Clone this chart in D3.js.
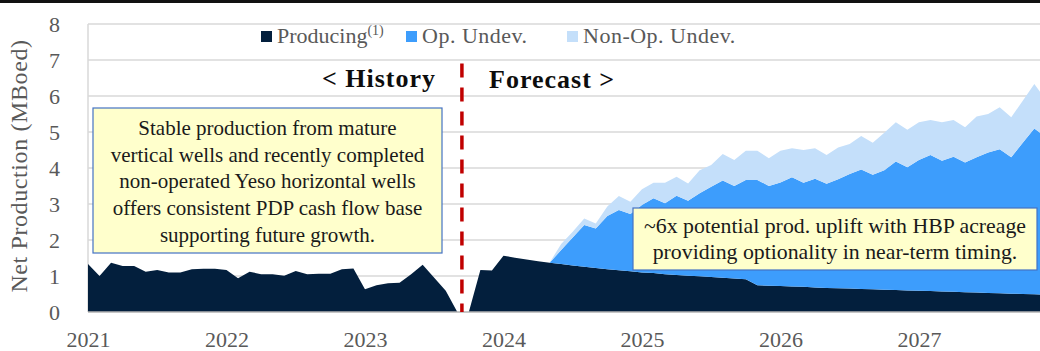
<!DOCTYPE html>
<html>
<head>
<meta charset="utf-8">
<script src="https://cdn.jsdelivr.net/npm/d3@7"></script>
<style>
  body { margin: 0; background: #fff; }
  svg { display: block; font-family: "Liberation Serif", "DejaVu Serif", serif; }
</style>
</head>
<body>
<svg id="chart" width="1040" height="351"></svg>
<script>
// monthly values, Jan 2021 .. Dec 2027 (index 0..83)
const yearLabels = ["2021", "2022", "2023", "2024", "2025", "2026", "2027"];
const yTicks = [0, 1, 2, 3, 4, 5, 6, 7, 8];

const producing = [
  1.33, 1.00, 1.37, 1.28, 1.28, 1.12, 1.17, 1.10, 1.10, 1.19, 1.20, 1.20,
  1.17, 0.94, 1.12, 1.05, 1.05, 1.01, 1.14, 1.05, 1.06, 1.06, 1.19, 1.21,
  0.63, 0.74, 0.80, 0.81, 1.05, 1.31, 0.95, 0.59, 0.00, 0.00, 1.17, 1.15,
  1.56, 1.51, 1.46, 1.41, 1.37, 1.33, 1.29, 1.26, 1.22, 1.19, 1.16, 1.13,
  1.10, 1.08, 1.05, 1.03, 1.01, 0.99, 0.97, 0.95, 0.93, 0.91, 0.74, 0.73,
  0.72, 0.71, 0.70, 0.68, 0.67, 0.66, 0.65, 0.64, 0.63, 0.62, 0.61, 0.60,
  0.59, 0.58, 0.57, 0.56, 0.55, 0.54, 0.53, 0.52, 0.51, 0.50, 0.49, 0.48
];
const opUndev = [
  0, 0, 0, 0, 0, 0, 0, 0, 0, 0, 0, 0,
  0, 0, 0, 0, 0, 0, 0, 0, 0, 0, 0, 0,
  0, 0, 0, 0, 0, 0, 0, 0, 0, 0, 0, 0,
  0, 0, 0, 0, 0, 0.39, 0.78, 1.16, 1.10, 1.48, 1.67, 1.59,
  1.87, 2.08, 1.97, 2.20, 2.08, 2.31, 2.51, 2.70, 2.57, 2.76, 2.93, 2.77,
  2.88, 3.03, 2.89, 3.02, 2.89, 3.03, 3.18, 3.32, 3.18, 3.32, 3.57, 3.42,
  3.63, 3.78, 3.63, 3.75, 3.60, 3.76, 3.90, 4.00, 3.79, 4.20, 4.61, 4.37
];
const nonOpUndev = [
  0, 0, 0, 0, 0, 0, 0, 0, 0, 0, 0, 0,
  0, 0, 0, 0, 0, 0, 0, 0, 0, 0, 0, 0,
  0, 0, 0, 0, 0, 0, 0, 0, 0, 0, 0, 0,
  0, 0, 0, 0, 0, 0.17, 0.16, 0.18, 0.14, 0.26, 0.39, 0.34,
  0.44, 0.43, 0.57, 0.53, 0.48, 0.64, 0.60, 0.74, 0.72, 0.81, 0.81, 0.77,
  0.88, 0.81, 0.91, 0.85, 0.80, 0.88, 0.84, 0.93, 0.89, 1.04, 1.09, 1.04,
  1.05, 0.97, 1.07, 1.02, 0.98, 1.13, 1.07, 1.17, 1.11, 1.17, 1.23, 1.05
];

const seriesKeys = ["producing", "opUndev", "nonOpUndev"];
const seriesNames = ["Producing", "Op. Undev.", "Non-Op. Undev."];
const seriesColors = ["#031f3d", "#3d9dfc", "#c4dffa"];
const forecastStart = 32.4; // month index of the history / forecast split

const table = producing.map((p, i) => ({
  month: i, producing: p, opUndev: opUndev[i], nonOpUndev: nonOpUndev[i]
}));

const svg = d3.select("#chart");
const W = 1040;

const x = d3.scaleLinear().domain([0, 84]).range([88, 1057.4]);
const y = d3.scaleLinear().domain([0, 8]).range([312, 24]);

// top rule
svg.append("rect").attr("x", 0).attr("y", 0).attr("width", W).attr("height", 3).attr("fill", "#111");

// gridlines
svg.append("g")
  .selectAll("line")
  .data(yTicks.filter(d => d > 0))
  .join("line")
  .attr("x1", x(0)).attr("x2", W)
  .attr("y1", d => y(d)).attr("y2", d => y(d))
  .attr("stroke", "#d9d9d9").attr("stroke-width", 1.5);

svg.append("line")
  .attr("x1", x(0)).attr("x2", x(0))
  .attr("y1", y(8)).attr("y2", y(0))
  .attr("stroke", "#d9d9d9").attr("stroke-width", 1.5);

// stacked areas
const stacked = d3.stack().keys(seriesKeys)(table);
const area = d3.area()
  .x(d => x(d.data.month))
  .y0(d => y(d[0]))
  .y1(d => y(d[1]));

svg.append("g")
  .selectAll("path")
  .data(stacked)
  .join("path")
  .attr("d", area)
  .attr("fill", (d, i) => seriesColors[i]);

// baseline
svg.append("line")
  .attr("x1", x(0)).attr("x2", W)
  .attr("y1", y(0)).attr("y2", y(0))
  .attr("stroke", "#b3b3b3").attr("stroke-width", 1.5);

// axes
const yAxis = svg.append("g")
  .attr("transform", `translate(${x(0)},0)`)
  .call(d3.axisLeft(y).tickValues(yTicks).tickSize(0).tickPadding(28).tickFormat(d3.format("d")));
yAxis.select(".domain").remove();
yAxis.selectAll("text")
  .attr("font-family", "Liberation Serif, serif")
  .attr("font-size", 22).attr("fill", "#595959");

const xAxis = svg.append("g")
  .attr("transform", `translate(0,${y(0)})`)
  .call(d3.axisBottom(x).tickValues(yearLabels.map((d, i) => i * 12)).tickSize(0).tickPadding(19)
    .tickFormat((d, i) => yearLabels[i]));
xAxis.select(".domain").remove();
xAxis.selectAll("text")
  .attr("font-family", "Liberation Serif, serif")
  .attr("font-size", 22).attr("fill", "#595959");

svg.append("text")
  .attr("transform", `translate(27,${(y(0) + y(8)) / 2 - 2}) rotate(-90)`)
  .attr("text-anchor", "middle")
  .attr("font-size", 24).attr("letter-spacing", 0.6).attr("fill", "#595959")
  .text("Net Production (MBoed)");

// history / forecast divider
svg.append("line")
  .attr("x1", x(forecastStart)).attr("x2", x(forecastStart))
  .attr("y1", y(6.9)).attr("y2", y(0))
  .attr("stroke", "#c00000").attr("stroke-width", 3.5)
  .attr("stroke-dasharray", "14,10");

svg.append("text")
  .attr("x", 436).attr("y", 87)
  .attr("text-anchor", "end")
  .attr("font-size", 26).attr("letter-spacing", 1).attr("font-weight", "bold").attr("fill", "#0d0d0d")
  .text("< History");

svg.append("text")
  .attr("x", 489).attr("y", 88)
  .attr("font-size", 26).attr("letter-spacing", 1).attr("font-weight", "bold").attr("fill", "#0d0d0d")
  .text("Forecast >");

// legend
const legendX = [261, 406, 567];
const legend = svg.append("g")
  .selectAll("g")
  .data(seriesNames)
  .join("g")
  .attr("transform", (d, i) => `translate(${legendX[i]},0)`);
legend.append("rect")
  .attr("x", 0).attr("y", 31).attr("width", 11).attr("height", 11)
  .attr("fill", (d, i) => seriesColors[i]);
const legendText = legend.append("text")
  .attr("x", 16).attr("y", 43)
  .attr("font-size", 22).attr("letter-spacing", 0.5).attr("fill", "#595959")
  .text(d => d);
legendText.filter((d, i) => i === 0)
  .attr("letter-spacing", 0)
  .append("tspan")
  .attr("dy", -8).attr("font-size", 14)
  .text("(1)");

// annotation boxes
function noteBox(bx, by, bw, bh, lines, baseline0, lineStep, size) {
  const g = svg.append("g");
  g.append("rect")
    .attr("x", bx).attr("y", by).attr("width", bw).attr("height", bh)
    .attr("fill", "#ffffcc").attr("stroke", "#4472c4").attr("stroke-width", 1.2);
  g.selectAll("text")
    .data(lines)
    .join("text")
    .attr("x", bx + bw / 2)
    .attr("y", (d, i) => baseline0 + i * lineStep)
    .attr("text-anchor", "middle")
    .attr("font-size", size).attr("fill", "#1a1a1a")
    .text(d => d);
}

noteBox(93, 108, 349, 145, [
  "Stable production from mature",
  "vertical wells and recently completed",
  "non-operated Yeso horizontal wells",
  "offers consistent PDP cash flow base",
  "supporting future growth."
], 135, 26.7, 21);

noteBox(633, 208, 404, 62, [
  "~6x potential prod. uplift with HBP acreage",
  "providing optionality in near-term timing."
], 233, 26, 21.8);
</script>
</body>
</html>
